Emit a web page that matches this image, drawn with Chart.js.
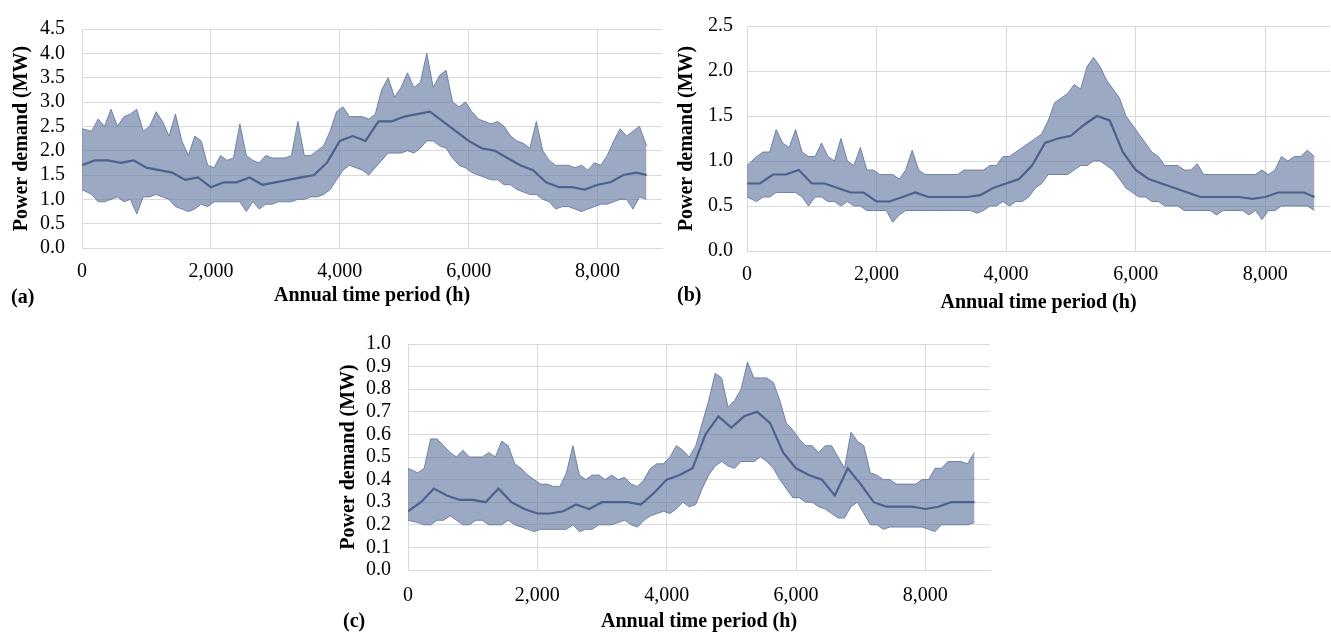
<!DOCTYPE html>
<html>
<head>
<meta charset="utf-8">
<script src="https://cdn.jsdelivr.net/npm/chart.js@4.4.1/dist/chart.umd.min.js"></script>
<style>
    body { margin: 0; background: #fff; }
    #page { position: relative; width: 1331px; height: 636px; overflow: hidden; }
    canvas { position: absolute; }
    .panel-label { position: absolute; font: bold 20px 'Liberation Serif', 'Times New Roman', serif; line-height: 20px; color: #000; }
</style>
</head>
<body>
<div id="page">
    <canvas id="chartA" width="670" height="312" style="left:0;top:0"></canvas>
    <canvas id="chartB" width="661" height="320" style="left:670px;top:0"></canvas>
    <canvas id="chartC" width="665" height="321" style="left:335px;top:315px"></canvas>
    <div class="panel-label" style="left:11px;top:286px">(a)</div>
    <div class="panel-label" style="left:677px;top:284px">(b)</div>
    <div class="panel-label" style="left:343px;top:610px">(c)</div>
</div>
<script>
// hours of the envelope samples (one per 100 h block, ends pinned to 0 and 8760)
const envHours = Array.from({ length: 88 }, (_, i) => i === 0 ? 0 : (i === 87 ? 8760 : i * 100 + 50));
// hours of the dense core samples
const midHours = [0, 200, 400, 600, 800, 1000, 1200, 1400, 1600, 1800, 2000, 2200, 2400, 2600, 2800,
    3000, 3200, 3400, 3600, 3800, 4000, 4200, 4400, 4600, 4800, 5000, 5200, 5400, 5600, 5800,
    6000, 6200, 6400, 6600, 6800, 7000, 7200, 7400, 7600, 7800, 8000, 8200, 8400, 8600, 8760];
const xTickHours = [0, 2000, 4000, 6000, 8000];

// (a) power demand, MW
const demandA_max = [2.45, 2.4, 2.65, 2.5, 2.85, 2.5, 2.7, 2.75, 2.85, 2.4,
    2.5, 2.8, 2.6, 2.3, 2.75, 2.2, 1.9, 2.3, 2.2, 1.7,
    1.65, 1.9, 1.8, 1.85, 2.55, 1.9, 1.8, 1.75, 1.9, 1.85,
    1.85, 1.85, 1.9, 2.6, 1.9, 1.9, 2.0, 2.1, 2.4, 2.8,
    2.9, 2.7, 2.7, 2.7, 2.65, 2.75, 3.25, 3.5, 3.1, 3.3,
    3.6, 3.3, 3.4, 4.0, 3.3, 3.55, 3.65, 3.0, 2.9, 3.0,
    2.8, 2.65, 2.6, 2.55, 2.6, 2.5, 2.3, 2.2, 2.15, 2.05,
    2.6, 2.0, 1.8, 1.7, 1.7, 1.7, 1.65, 1.7, 1.6, 1.75,
    1.7, 1.9, 2.2, 2.45, 2.3, 2.4, 2.5, 2.1];
const demandA_min = [1.2, 1.1, 0.95, 0.95, 1.0, 1.05, 0.95, 1.0, 0.7, 1.05,
    1.05, 1.1, 1.05, 1.0, 0.85, 0.8, 0.75, 0.8, 0.9, 0.85,
    0.95, 0.95, 0.95, 0.95, 0.95, 0.75, 0.95, 0.8, 0.9, 0.9,
    0.95, 0.95, 0.95, 1.0, 1.0, 1.05, 1.05, 1.1, 1.2, 1.4,
    1.6, 1.7, 1.65, 1.6, 1.5, 1.65, 1.8, 1.95, 1.95, 1.95,
    2.0, 1.95, 2.05, 2.2, 2.2, 2.1, 2.05, 1.85, 1.7, 1.65,
    1.55, 1.5, 1.45, 1.4, 1.4, 1.3, 1.3, 1.2, 1.15, 1.1,
    1.1, 1.0, 0.95, 0.8, 0.85, 0.85, 0.8, 0.75, 0.8, 0.85,
    0.9, 0.9, 0.95, 1.0, 1.0, 0.8, 1.05, 1.0];
const demandA_mid = [1.7, 1.8, 1.8, 1.75, 1.8, 1.65, 1.6, 1.55, 1.4, 1.45,
    1.25, 1.35, 1.35, 1.45, 1.3, 1.35, 1.4, 1.45, 1.5, 1.75,
    2.2, 2.3, 2.2, 2.6, 2.6, 2.7, 2.75, 2.8, 2.6, 2.4,
    2.2, 2.05, 2.0, 1.85, 1.7, 1.6, 1.35, 1.25, 1.25, 1.2,
    1.3, 1.35, 1.5, 1.55, 1.5];

// (b) power demand, MW
const demandB_max = [0.95, 1.05, 1.1, 1.1, 1.35, 1.2, 1.15, 1.35, 1.1, 1.05,
    1.05, 1.2, 1.05, 1.0, 1.25, 1.0, 0.95, 1.15, 0.9, 0.9,
    0.85, 0.85, 0.85, 0.8, 0.9, 1.12, 0.9, 0.85, 0.85, 0.85,
    0.85, 0.85, 0.85, 0.9, 0.9, 0.9, 0.9, 0.95, 0.95, 1.05,
    1.05, 1.1, 1.15, 1.2, 1.25, 1.3, 1.45, 1.65, 1.7, 1.75,
    1.85, 1.8, 2.05, 2.15, 2.05, 1.9, 1.8, 1.7, 1.5, 1.4,
    1.3, 1.2, 1.1, 1.05, 0.95, 0.95, 0.95, 0.9, 0.9, 0.97,
    0.85, 0.85, 0.85, 0.85, 0.85, 0.85, 0.85, 0.85, 0.85, 0.9,
    0.85, 0.9, 1.05, 1.0, 1.05, 1.05, 1.12, 1.05];
const demandB_min = [0.6, 0.55, 0.6, 0.6, 0.65, 0.65, 0.65, 0.65, 0.6, 0.5,
    0.6, 0.6, 0.55, 0.55, 0.5, 0.55, 0.5, 0.5, 0.45, 0.45,
    0.45, 0.45, 0.32, 0.4, 0.45, 0.45, 0.45, 0.45, 0.45, 0.45,
    0.45, 0.45, 0.45, 0.45, 0.45, 0.42, 0.45, 0.5, 0.5, 0.55,
    0.5, 0.55, 0.55, 0.6, 0.7, 0.75, 0.85, 0.85, 0.85, 0.85,
    0.9, 0.95, 0.95, 1.0, 1.0, 0.95, 0.9, 0.8, 0.7, 0.65,
    0.6, 0.6, 0.55, 0.55, 0.5, 0.5, 0.5, 0.45, 0.45, 0.45,
    0.45, 0.45, 0.4, 0.45, 0.45, 0.45, 0.45, 0.4, 0.45, 0.35,
    0.45, 0.45, 0.5, 0.5, 0.5, 0.5, 0.5, 0.45];
const demandB_mid = [0.75, 0.75, 0.85, 0.85, 0.9, 0.75, 0.75, 0.7, 0.65, 0.65,
    0.55, 0.55, 0.6, 0.65, 0.6, 0.6, 0.6, 0.6, 0.62, 0.7,
    0.75, 0.8, 0.95, 1.2, 1.25, 1.28, 1.4, 1.5, 1.45, 1.1,
    0.9, 0.8, 0.75, 0.7, 0.65, 0.6, 0.6, 0.6, 0.6, 0.58,
    0.6, 0.65, 0.65, 0.65, 0.6];

// (c) power demand, MW
const demandC_max = [0.45, 0.43, 0.45, 0.58, 0.58, 0.55, 0.52, 0.5, 0.53, 0.5,
    0.5, 0.5, 0.52, 0.5, 0.57, 0.55, 0.47, 0.45, 0.42, 0.4,
    0.38, 0.38, 0.37, 0.37, 0.43, 0.55, 0.42, 0.4, 0.42, 0.42,
    0.4, 0.42, 0.4, 0.41, 0.38, 0.37, 0.4, 0.45, 0.47, 0.47,
    0.5, 0.55, 0.53, 0.5, 0.55, 0.65, 0.75, 0.87, 0.85, 0.72,
    0.75, 0.8, 0.92, 0.85, 0.85, 0.85, 0.83, 0.75, 0.65, 0.62,
    0.58, 0.55, 0.55, 0.52, 0.55, 0.55, 0.5, 0.45, 0.61, 0.57,
    0.55, 0.43, 0.42, 0.4, 0.4, 0.38, 0.38, 0.38, 0.38, 0.4,
    0.4, 0.45, 0.45, 0.48, 0.48, 0.48, 0.47, 0.52];
const demandC_min = [0.22, 0.21, 0.2, 0.2, 0.22, 0.22, 0.24, 0.22, 0.2, 0.2,
    0.22, 0.22, 0.2, 0.2, 0.2, 0.22, 0.2, 0.19, 0.18, 0.17,
    0.18, 0.18, 0.18, 0.18, 0.18, 0.2, 0.17, 0.18, 0.18, 0.2,
    0.2, 0.2, 0.21, 0.22, 0.2, 0.19, 0.22, 0.24, 0.25, 0.26,
    0.25, 0.27, 0.3, 0.28, 0.29, 0.36, 0.42, 0.46, 0.48, 0.46,
    0.45, 0.48, 0.48, 0.48, 0.5, 0.48, 0.45, 0.4, 0.36, 0.32,
    0.32, 0.3, 0.3, 0.28, 0.27, 0.25, 0.23, 0.23, 0.28, 0.3,
    0.25, 0.2, 0.2, 0.18, 0.19, 0.19, 0.19, 0.19, 0.19, 0.19,
    0.18, 0.17, 0.2, 0.2, 0.2, 0.2, 0.2, 0.21];
const demandC_mid = [0.26, 0.3, 0.36, 0.33, 0.31, 0.31, 0.3, 0.36, 0.3, 0.27,
    0.25, 0.25, 0.26, 0.29, 0.27, 0.3, 0.3, 0.3, 0.29, 0.34,
    0.4, 0.42, 0.45, 0.6, 0.68, 0.63, 0.68, 0.7, 0.65, 0.52,
    0.45, 0.42, 0.4, 0.33, 0.45, 0.38, 0.3, 0.28, 0.28, 0.28,
    0.27, 0.28, 0.3, 0.3, 0.3];

const fontFamily = "'Liberation Serif', 'Times New Roman', serif";
const gridColor = '#d9d9d9';

function toPoints(hours, values) {
    return values.map((v, i) => ({ x: hours[i], y: v }));
}

function buildChart(id, maxSeries, minSeries, midSeries, yMax, yStep, box) {
    return new Chart(document.getElementById(id), {
        type: 'line',
        data: {
            datasets: [{
                data: toPoints(envHours, maxSeries),
                borderColor: 'rgba(98, 117, 158, 0.85)',
                borderWidth: 1,
                backgroundColor: 'rgba(96, 116, 158, 0.62)',
                fill: '+1',
                pointRadius: 0,
                tension: 0
            }, {
                data: toPoints(envHours, minSeries),
                borderColor: 'rgba(98, 117, 158, 0.85)',
                borderWidth: 1,
                fill: false,
                pointRadius: 0,
                tension: 0
            }, {
                data: toPoints(midHours, midSeries),
                borderColor: '#2f4373',
                borderWidth: 2.2,
                fill: false,
                pointRadius: 0,
                tension: 0
            }]
        },
        options: {
            responsive: false,
            animation: false,
            layout: {
                padding: { top: box.padTop, right: box.padRight, bottom: 0, left: 0 }
            },
            plugins: {
                legend: { display: false },
                tooltip: { enabled: false }
            },
            scales: {
                x: {
                    type: 'linear',
                    min: 0,
                    max: 9000,
                    afterFit: scale => { scale.height = box.xHeight; },
                    afterBuildTicks: scale => { scale.ticks = xTickHours.map(v => ({ value: v })); },
                    ticks: {
                        autoSkip: false,
                        maxRotation: 0,
                        padding: box.xTickPad,
                        color: '#000',
                        font: { family: fontFamily, size: 20 },
                        callback: v => v.toLocaleString('en-US')
                    },
                    grid: { color: gridColor, drawTicks: false },
                    border: { color: gridColor },
                    title: {
                        display: true,
                        text: 'Annual time period (h)',
                        color: '#000',
                        font: { family: fontFamily, size: 20, weight: 'bold' },
                        padding: { top: 0, bottom: box.xTitlePad }
                    }
                },
                y: {
                    min: 0,
                    max: yMax,
                    afterFit: scale => { scale.width = box.yWidth; },
                    ticks: {
                        stepSize: yStep,
                        autoSkip: false,
                        padding: box.yTickPad,
                        color: '#000',
                        font: { family: fontFamily, size: 20 },
                        callback: v => v.toFixed(1)
                    },
                    grid: { color: gridColor, drawTicks: false },
                    border: { color: gridColor },
                    title: {
                        display: true,
                        text: 'Power demand (MW)',
                        color: '#000',
                        font: { family: fontFamily, size: 20, weight: 'bold' },
                        padding: { top: box.yTitlePad, bottom: 0 }
                    }
                }
            }
        }
    });
}

document.addEventListener('DOMContentLoaded', function () {
    buildChart('chartA', demandA_max, demandA_min, demandA_mid, 4.5, 0.5,
        { padTop: 21, padRight: 8, xHeight: 64, yWidth: 82, xTickPad: 12, yTickPad: 17, xTitlePad: 4, yTitlePad: 10 });
    buildChart('chartB', demandB_max, demandB_min, demandB_mid, 2.5, 0.5,
        { padTop: 17, padRight: 1, xHeight: 69, yWidth: 77, xTickPad: 12, yTickPad: 14, xTitlePad: 5, yTitlePad: 5 });
    buildChart('chartC', demandC_max, demandC_min, demandC_mid, 1.0, 0.1,
        { padTop: 19, padRight: 10, xHeight: 66, yWidth: 73, xTickPad: 14, yTickPad: 17, xTitlePad: 2, yTitlePad: 2 });
});
</script>
</body>
</html>
